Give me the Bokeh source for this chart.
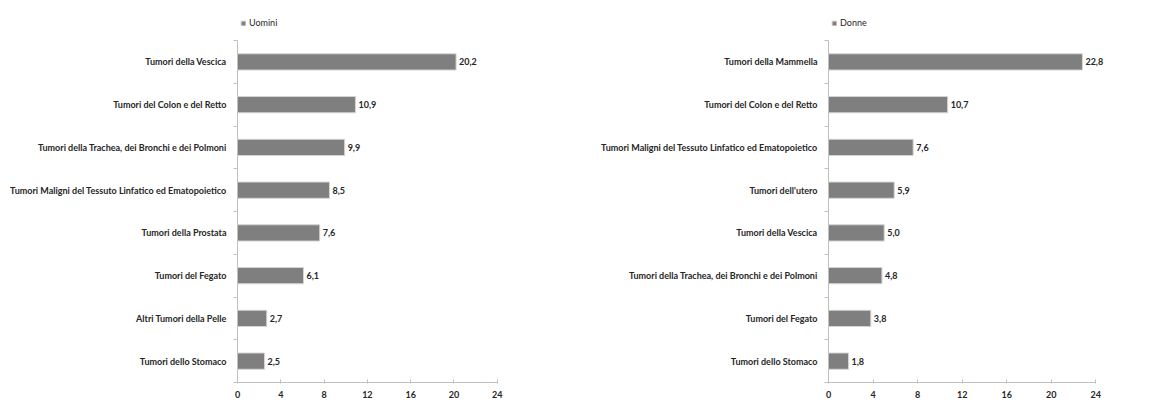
from bokeh.plotting import figure
from bokeh.layouts import row
from bokeh.models import (ColumnDataSource, FixedTicker, Legend, LegendItem, Range1d, LabelSet)
from bokeh.core.properties import value
from bokeh.embed import file_html
from bokeh.resources import INLINE

men_categories = [
    "Tumori della Vescica",
    "Tumori del Colon e del Retto",
    "Tumori della Trachea, dei Bronchi e dei Polmoni",
    "Tumori Maligni del Tessuto Linfatico ed Ematopoietico",
    "Tumori della Prostata",
    "Tumori del Fegato",
    "Altri Tumori della Pelle",
    "Tumori dello Stomaco",
]
men_values = [20.2, 10.9, 9.9, 8.5, 7.6, 6.1, 2.7, 2.5]

women_categories = [
    "Tumori della Mammella",
    "Tumori del Colon e del Retto",
    "Tumori Maligni del Tessuto Linfatico ed Ematopoietico",
    "Tumori dell'utero",
    "Tumori della Vescica",
    "Tumori della Trachea, dei Bronchi e dei Polmoni",
    "Tumori del Fegato",
    "Tumori dello Stomaco",
]
women_values = [22.8, 10.7, 7.6, 5.9, 5.0, 4.8, 3.8, 1.8]

x_ticks = [0, 4, 8, 12, 16, 20, 24]
series_names = ["Uomini", "Donne"]

FONT = "Lato"
FSIZE = "9px"
TEXT = "#262626"
AXIS = "#c0c0c0"
BAR = "#7f7f7f"
BAR_LINE = "#d4d4d4"

H = 400
BOTTOM = 18.5          # space below plot area
AXIS_TOP = 40          # px from top where the axes start
XMAX = 24


def make(cats, vals, name, width, bl, axis_px):
    n = len(cats)
    frame_h = H - BOTTOM
    frame_w = width - bl
    y_end = n * frame_h / (frame_h - AXIS_TOP)
    x_end = XMAX * frame_w / axis_px
    ypos = [n - i - 0.5 for i in range(n)]
    src = ColumnDataSource(dict(y=ypos, v=vals,
                                lab=[f"{v:.1f}".replace(".", ",") for v in vals]))
    p = figure(width=width, height=H, output_backend="svg", toolbar_location=None,
               x_range=Range1d(0, x_end), y_range=Range1d(0, y_end),
               min_border_left=bl, min_border_right=0, min_border_top=0,
               min_border_bottom=int(BOTTOM))
    p.outline_line_color = None
    p.grid.grid_line_color = None
    p.background_fill_color = "white"
    r = p.hbar(y="y", right="v", left=0, height=0.38, source=src,
               fill_color=BAR, line_color=BAR_LINE, line_width=1)
    labels = LabelSet(x="v", y="y", text="lab", source=src, x_offset=3,
                      text_baseline="middle", text_font=value(FONT),
                      text_font_size=value(FSIZE),
                      text_font_style="bold", text_color=TEXT)
    p.add_layout(labels)

    p.xaxis.bounds = (0, XMAX)
    p.yaxis.bounds = (0, n)
    p.xaxis.ticker = FixedTicker(ticks=x_ticks)
    p.xaxis.major_label_overrides = {t: str(t) for t in x_ticks}
    p.yaxis.ticker = FixedTicker(ticks=ypos, minor_ticks=list(range(n + 1)))
    p.yaxis.major_label_overrides = {y: c for y, c in zip(ypos, cats)}
    p.yaxis.minor_tick_line_color = AXIS
    p.yaxis.minor_tick_out = 4
    p.yaxis.minor_tick_in = 0
    p.yaxis.major_tick_out = 0
    p.yaxis.major_tick_in = 0
    p.yaxis.major_label_standoff = 7
    p.xaxis.major_tick_out = 1
    p.xaxis.major_tick_in = 3
    p.xaxis.minor_tick_line_color = None
    p.xaxis.major_label_standoff = 7
    for ax in (p.xaxis, p.yaxis):
        ax.axis_line_color = AXIS
        ax.major_label_text_font = FONT
        ax.major_label_text_font_size = FSIZE
        ax.major_label_text_font_style = "bold"
        ax.major_label_text_color = TEXT
    p.xaxis.major_tick_line_color = AXIS
    p.yaxis.major_tick_line_color = None

    legend = Legend(items=[LegendItem(label=name, renderers=[r])],
                    orientation="horizontal",
                    margin=0, padding=0, spacing=0,
                    glyph_width=6, glyph_height=6, label_standoff=3,
                    label_text_font=FONT, label_text_font_size=FSIZE,
                    label_text_color=TEXT, label_height=10,
                    border_line_color=None, background_fill_alpha=0)
    legend.location = (3, int(frame_h - 22 - 5))
    p.add_layout(legend)
    return p


p1 = make(men_categories, men_values, series_names[0], 585, 237, 259.7)
p2 = make(women_categories, women_values, series_names[1], 591, 243, 267.3)
layout = row(p1, p2)

open("out.html", "w").write(file_html(layout, INLINE))
